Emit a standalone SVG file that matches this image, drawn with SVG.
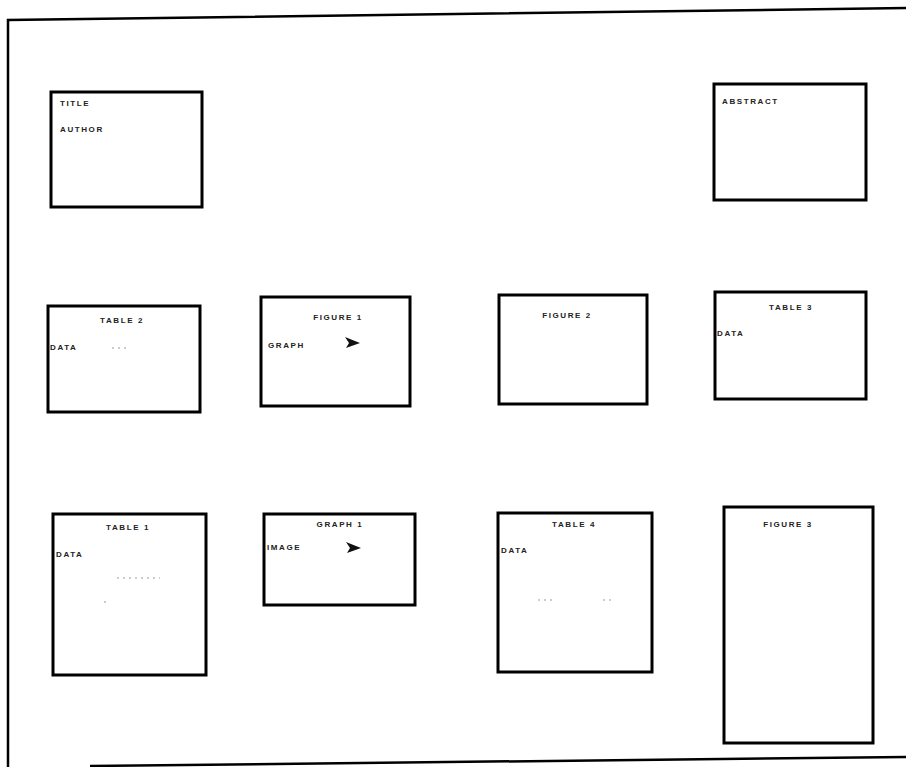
<svg xmlns="http://www.w3.org/2000/svg" width="906" height="767" viewBox="0 0 906 767">
<style>
.box{fill:#fff;stroke:#000;stroke-width:3}
.t{font-family:"Liberation Sans",Arial,sans-serif;font-size:8px;font-weight:bold;fill:#222;letter-spacing:1.6px}
.c{text-anchor:middle}
.frame{fill:none;stroke:#000;stroke-width:2.5}
.dot{stroke:#999;stroke-width:1;stroke-dasharray:2 4}
</style>
<rect width="906" height="767" fill="#fff"/>
<g id="page">
<path class="frame" d="M8 767 L8 20 L906 8"/>
<path class="frame" d="M90 766 L906 757"/>
</g>
<g id="connectors"/>
<g id="title-block">
<rect class="box" x="51" y="92" width="151" height="115"/>
<text class="t" x="60" y="106">TITLE</text>
<text class="t" x="60" y="132">AUTHOR</text>
</g>
<g id="abstract">
<rect class="box" x="714" y="84" width="152" height="116"/>
<text class="t" x="722" y="104">ABSTRACT</text>
</g>
<g id="table2">
<rect class="box" x="48" y="306" width="152" height="106"/>
<text class="t c" x="122" y="323">TABLE 2</text>
<text class="t" x="50" y="350">DATA</text>
<line class="dot" x1="112" y1="348" x2="126" y2="348"/>
</g>
<g id="figure1">
<rect class="box" x="261" y="297" width="149" height="109"/>
<text class="t c" x="338" y="320">FIGURE 1</text>
<text class="t" x="268" y="348">GRAPH</text>
<path d="M345 337 L360 343 L346 348 L349 343 Z" fill="#111"/>
</g>
<g id="figure2">
<rect class="box" x="499" y="295" width="148" height="109"/>
<text class="t c" x="567" y="318">FIGURE 2</text>
</g>
<g id="table3">
<rect class="box" x="715" y="292" width="151" height="107"/>
<text class="t c" x="791" y="310">TABLE 3</text>
<text class="t" x="717" y="336">DATA</text>
</g>
<g id="table1">
<rect class="box" x="53" y="514" width="153" height="161"/>
<text class="t c" x="128" y="530">TABLE 1</text>
<text class="t" x="56" y="557">DATA</text>
<line class="dot" x1="117" y1="578" x2="160" y2="578"/>
<line class="dot" x1="104" y1="602" x2="107" y2="602"/>
</g>
<g id="graph1">
<rect class="box" x="264" y="514" width="151" height="91"/>
<text class="t c" x="340" y="527">GRAPH 1</text>
<text class="t" x="267" y="550">IMAGE</text>
<path d="M346 542 L361 548 L347 553 L350 548 Z" fill="#111"/>
</g>
<g id="table4">
<rect class="box" x="498" y="513" width="154" height="159"/>
<text class="t c" x="574" y="527">TABLE 4</text>
<text class="t" x="501" y="553">DATA</text>
<line class="dot" x1="538" y1="600" x2="556" y2="600"/>
<line class="dot" x1="603" y1="600" x2="611" y2="600"/>
</g>
<g id="figure3">
<rect class="box" x="724" y="507" width="149" height="236"/>
<text class="t c" x="788" y="527">FIGURE 3</text>
</g>
</svg>
